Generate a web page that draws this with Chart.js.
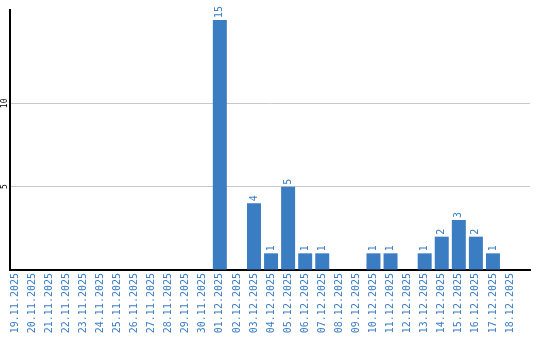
<!DOCTYPE html>
<html><head><meta charset="utf-8">
<script src="https://cdn.jsdelivr.net/npm/chart.js@4/dist/chart.umd.min.js"></script>
<style>html,body{margin:0;padding:0;background:#fff}canvas{display:block}</style>
</head><body>
<canvas id="c" width="540" height="340"></canvas>
<script>
const categories = ["19.11.2025","20.11.2025","21.11.2025","22.11.2025","23.11.2025","24.11.2025","25.11.2025","26.11.2025","27.11.2025","28.11.2025","29.11.2025","30.11.2025","01.12.2025","02.12.2025","03.12.2025","04.12.2025","05.12.2025","06.12.2025","07.12.2025","08.12.2025","09.12.2025","10.12.2025","11.12.2025","12.12.2025","13.12.2025","14.12.2025","15.12.2025","16.12.2025","17.12.2025","18.12.2025"];
const values = [0,0,0,0,0,0,0,0,0,0,0,0,15,0,4,1,5,1,1,0,0,1,1,0,1,2,3,2,1,0];
const yTickLabels = [5, 10];

const BLUE = '#3b7dc3';
const MONO = "'DejaVu Sans Mono', 'Liberation Mono', monospace";

const labelsPlugin = {
  id: 'labels',
  afterDatasetsDraw(chart) {
    const ctx = chart.ctx;
    const meta = chart.getDatasetMeta(0);
    ctx.save();
    ctx.fillStyle = BLUE;
    ctx.font = "10px " + MONO;
    meta.data.forEach((bar, i) => {
      if (!values[i]) return;
      ctx.save();
      ctx.translate(bar.x, bar.y - 2);
      ctx.rotate(-Math.PI / 2);
      ctx.textAlign = 'left';
      ctx.textBaseline = 'middle';
      ctx.fillText(String(values[i]), 0, 0);
      ctx.restore();
    });
    const ys = chart.scales.y;
    ctx.fillStyle = '#000';
    ctx.font = "8px " + MONO;
    yTickLabels.forEach(v => {
      const y = ys.getPixelForValue(v);
      ctx.save();
      ctx.translate(5, y);
      ctx.rotate(-Math.PI / 2);
      ctx.textAlign = 'center';
      ctx.textBaseline = 'middle';
      ctx.fillText(String(v), 0, 0);
      ctx.restore();
    });
    ctx.restore();
  }
};

new Chart(document.getElementById('c'), {
  type: 'bar',
  data: {
    datasets: [{
      data: values.map((v, i) => ({ x: i, y: v })),
      backgroundColor: BLUE,
      borderWidth: 0,
      categoryPercentage: 0.82,
      barPercentage: 1
    }]
  },
  options: {
    responsive: false,
    animation: false,
    layout: { padding: { top: 10, right: 10, left: 0, bottom: 0 } },
    plugins: { legend: { display: false }, tooltip: { enabled: false } },
    scales: {
      x: {
        type: 'linear',
        offset: false,
        min: -0.293,
        max: 30.17,
        afterFit(s) { s.height = 70; s.paddingLeft = 0; s.paddingRight = 0; },
        grid: { display: false, drawTicks: false },
        border: { display: true, color: '#000', width: 2 },
        ticks: {
          stepSize: 1,
          autoSkip: false,
          includeBounds: false,
          minRotation: 90,
          maxRotation: 90,
          padding: 3,
          color: BLUE,
          font: { family: MONO, size: 10 },
          callback(v) {
            return (Number.isInteger(v) && v >= 0 && v < categories.length) ? categories[v] : '';
          }
        }
      },
      y: {
        min: 0,
        max: 15.6,
        afterFit(s) { s.width = 10; s.paddingTop = 0; s.paddingBottom = 0; },
        grid: {
          drawTicks: false,
          color(c) { return (c.tick && yTickLabels.includes(c.tick.value)) ? '#c8c8c8' : 'rgba(0,0,0,0)'; }
        },
        border: { display: true, color: '#000', width: 2 },
        ticks: { stepSize: 5, display: false }
      }
    }
  },
  plugins: [labelsPlugin]
});
</script>
</body></html>
